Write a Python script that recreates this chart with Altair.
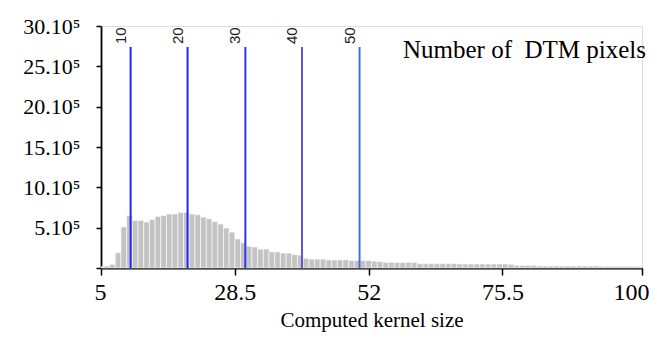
import altair as alt
import pandas as pd

# Histogram: computed kernel size (bin centre) and number of DTM pixels (in units of 1e5)
kernel = list(range(5, 101))
counts_e5 = [
    0.15, 0.25, 0.45, 1.9, 5.1, 6.5, 5.9, 5.9, 5.7, 6.0,      # 5-14
    6.4, 6.5, 6.7, 6.7, 6.9, 6.9, 6.7, 6.6, 6.3, 6.1,          # 15-24
    5.75, 5.45, 4.95, 4.45, 3.6, 3.15, 2.7, 2.6, 2.35, 2.35,   # 25-34
    2.0, 2.0, 1.85, 1.85, 1.65, 1.6, 1.2, 1.1, 1.1, 1.1,       # 35-44
    1.0, 1.0, 1.0, 1.0, 0.93, 0.93, 0.93, 0.93, 0.85, 0.8,     # 45-54
    0.7, 0.7, 0.7, 0.7, 0.7, 0.7, 0.53, 0.53, 0.53, 0.53,      # 55-64
    0.53, 0.53, 0.53, 0.5, 0.5, 0.5, 0.5, 0.5, 0.5, 0.5,       # 65-74
    0.5, 0.5, 0.45, 0.33, 0.33, 0.33, 0.33, 0.25, 0.25, 0.25,  # 75-84
    0.25, 0.25, 0.25, 0.25, 0.25, 0.25, 0.25, 0.25, 0.22, 0.22,# 85-94
    0.22, 0.22, 0.2, 0.2, 0.2, 0.2                             # 95-100
]

# Vertical reference lines
line_pos = [10.2, 20.2, 30.35, 40.3, 50.4]
line_labels = ["10", "20", "30", "40", "50"]
line_colors = ["#2424ff", "#2424ff", "#3030f0", "#5a5ac8", "#4272d6"]
line_top_e5 = 27.4

x_ticks = [5, 28.5, 52, 75.5, 100]
y_ticks_e5 = [0, 5, 10, 15, 20, 25, 30]

bars = pd.DataFrame({
    "k0": [k - 0.5 for k in kernel],
    "k1": [k + 0.5 for k in kernel],
    "count": [c * 1e5 for c in counts_e5],
    "base": [0.0] * len(kernel),
})
lines = pd.DataFrame({
    "pos": line_pos,
    "label": line_labels,
    "color": line_colors,
    "top": [line_top_e5 * 1e5] * len(line_pos),
    "base": [0.0] * len(line_pos),
})

SERIF = "Liberation Serif"

xscale = alt.Scale(domain=[5, 100], nice=False, zero=False, clamp=True)
yscale = alt.Scale(domain=[0, 30e5], nice=False)

xaxis = alt.Axis(
    values=x_ticks, labelExpr="'' + datum.value", grid=False,
    labelFont=SERIF, labelFontSize=24, labelColor="black",
    labelFlush=True, labelFlushOffset=7, labelPadding=5,
    tickSize=7, tickWidth=1.5, tickColor="black",
    domainColor="black", domainWidth=1.8,
    title="Computed kernel size", titleFont=SERIF, titleFontSize=21,
    titleFontWeight="normal", titleColor="black", titlePadding=5,
)
yaxis = alt.Axis(
    values=[v * 1e5 for v in y_ticks_e5],
    labelExpr="datum.value == 0 ? '' : format(datum.value / 100000, 'd') + '.10\u2075'",
    grid=False, labelFont=SERIF, labelFontSize=22, labelColor="black",
    labelPadding=16, tickSize=5, tickWidth=1.5, tickColor="black",
    domainColor="black", domainWidth=1.8, title=None, labelFlush=False,
    labelOverlap=False,
)

bar_layer = alt.Chart(bars).mark_rect(color="#c3c3c3", stroke="white", strokeWidth=0.6).encode(
    x=alt.X("k0:Q", scale=xscale, axis=xaxis),
    x2="k1:Q",
    y=alt.Y("count:Q", scale=yscale, axis=yaxis),
    y2="base:Q",
)

rule_layer = alt.Chart(lines).mark_rule(strokeWidth=2).encode(
    x=alt.X("pos:Q", scale=xscale),
    y=alt.Y("top:Q", scale=yscale),
    y2="base:Q",
    color=alt.Color("color:N", scale=None, legend=None),
)

text_layer = alt.Chart(lines).mark_text(
    angle=270, align="left", baseline="middle", dy=-10, dx=3,
    font="Liberation Sans", fontSize=15, color="#222222",
).encode(
    x=alt.X("pos:Q", scale=xscale),
    y=alt.Y("top:Q", scale=yscale),
    text="label:N",
)

chart = alt.layer(bar_layer, rule_layer, text_layer).properties(
    width=541,
    height=242,
    autosize=alt.AutoSizeParams(type="none"),
    padding={"left": 93, "top": 18, "right": 7, "bottom": 66},
    title=alt.TitleParams(
        "Number of\u00a0 DTM pixels", anchor="end", frame="group", orient="top",
        font=SERIF, fontSize=25, fontWeight="normal", color="black",
        baseline="alphabetic", offset=0, dy=68, dx=4,
    ),
).configure_view(stroke=None).configure(background="white")

chart.save("out.html", embed_options={"renderer": "svg", "actions": False})
